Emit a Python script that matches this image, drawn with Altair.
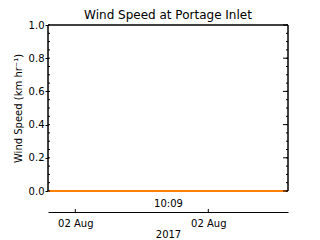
import altair as alt
import pandas as pd

# ---- data ----
chart_title = "Wind Speed at Portage Inlet"
y_title = "Wind Speed (km hr⁻¹)"
t_minutes = [0, 240]
wind_speed = [0.0, 0.0]
y_major = [0.0, 0.2, 0.4, 0.6, 0.8, 1.0]
y_minor = [0.0, 0.05, 0.1, 0.15, 0.2, 0.25, 0.3, 0.35, 0.4, 0.45, 0.5,
           0.55, 0.6, 0.65, 0.7, 0.75, 0.8, 0.85, 0.9, 0.95, 1.0]
time_label_pos = [120]
time_labels = ["10:09"]
date_tick_pos = [27.3, 160.3]
date_labels = ["02 Aug", "02 Aug"]
year_label = "2017"

ORANGE = "#ff8000"
W, H = 240, 166
XDOM = [0, 240]


def label_expr(pos, labels):
    expr = "''"
    for p, l in reversed(list(zip(pos, labels))):
        expr = f"datum.value == {p} ? '{l}' : ({expr})"
    return expr


line_df = pd.DataFrame({"t": t_minutes, "speed": wind_speed})
date_df = pd.DataFrame({"pos": date_tick_pos})
major_df = pd.DataFrame({"v": y_major})
minor_df = pd.DataFrame({"v": y_minor})

xscale = alt.Scale(domain=XDOM, nice=False, zero=False)
yscale = alt.Scale(domain=[0, 1], nice=False, zero=False)

line = alt.Chart(line_df).mark_line(color=ORANGE, strokeWidth=2, clip=False).encode(
    x=alt.X("t:Q", scale=xscale,
            axis=alt.Axis(orient="bottom", values=time_label_pos,
                          labelExpr=label_expr(time_label_pos, time_labels),
                          ticks=False, domain=False, grid=False, title=None,
                          labelPadding=7, labelFontSize=10, labelColor="black")),
    y=alt.Y("speed:Q", scale=yscale,
            axis=alt.Axis(orient="left", values=y_major, format=".1f", tickSize=3,
                          tickColor="black",
                          labelPadding=1, grid=False, domain=False, title=y_title,
                          titlePadding=5, titleFontWeight="normal", titleFontSize=10,
                          titleColor="black", labelFontSize=10, labelColor="black")),
)

date_ticks = alt.Chart(date_df).mark_rule(color="black", strokeWidth=1).encode(
    x=alt.X("pos:Q", scale=xscale,
            axis=alt.Axis(orient="bottom", values=date_tick_pos,
                          labelExpr=label_expr(date_tick_pos, date_labels),
                          ticks=False, domain=True, domainColor="black", grid=False, offset=21,
                          title=year_label, titleFontWeight="normal", titleFontSize=10,
                          titleColor="black", titlePadding=1,
                          labelPadding=6, labelFontSize=10, labelColor="black")),
    y=alt.value(H + 21),
    y2=alt.value(H + 18),
)

frame_top = alt.Chart(line_df).mark_rule(color="black").encode(
    x=alt.value(0), x2=alt.value(W), y=alt.value(0))
frame_left = alt.Chart(line_df).mark_rule(color="black").encode(
    x=alt.value(0), y=alt.value(0), y2=alt.value(H))
frame_right = alt.Chart(line_df).mark_rule(color="black").encode(
    x=alt.value(W), y=alt.value(0), y2=alt.value(H))

minor_left = alt.Chart(minor_df).mark_rule(color="black").encode(
    y=alt.Y("v:Q", scale=yscale, axis=None), x=alt.value(0), x2=alt.value(2))
minor_right = alt.Chart(minor_df).mark_rule(color="black").encode(
    y=alt.Y("v:Q", scale=yscale, axis=None), x=alt.value(W - 2), x2=alt.value(W))
major_right = alt.Chart(major_df).mark_rule(color="black").encode(
    y=alt.Y("v:Q", scale=yscale, axis=None), x=alt.value(W - 5), x2=alt.value(W))

chart = alt.layer(line, date_ticks, frame_top, frame_left, frame_right,
                  minor_left, minor_right, major_right).resolve_axis(
    x="independent", y="independent"
).properties(
    width=W, height=H,
    title=alt.TitleParams(chart_title, fontSize=12, fontWeight="normal", offset=-2,
                          anchor="middle", color="black"),
    autosize=alt.AutoSizeParams(type="none"),
    padding={"left": 48, "top": 25, "right": 32, "bottom": 49},
).configure(font="DejaVu Sans", background="white").configure_view(
    stroke=None
)

chart.save("out.html", embed_options={"renderer": "svg", "actions": False})
